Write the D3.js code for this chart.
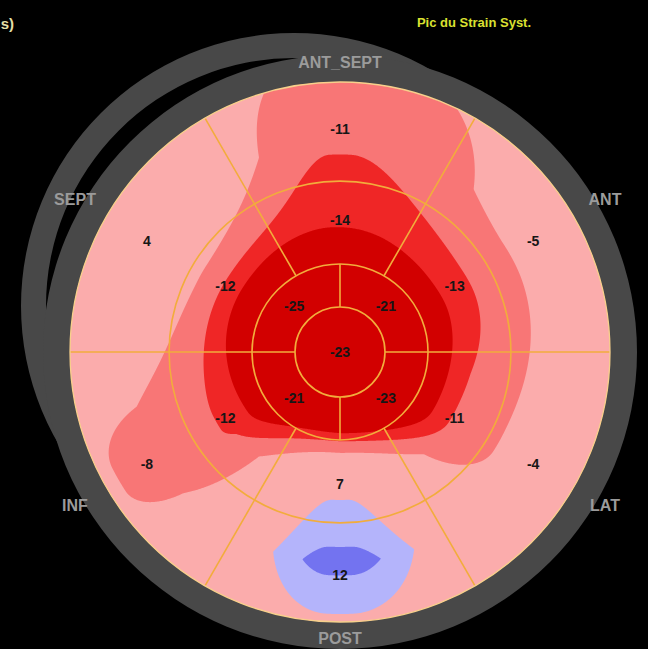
<!DOCTYPE html>
<html lang="en">
<head>
<meta charset="UTF-8">
<title>Pic du Strain Syst.</title>
<script src="https://cdn.jsdelivr.net/npm/d3@7"></script>
<style>
  body { margin: 0; background: #000; }
  svg { display: block; font-family: "Liberation Sans", Arial, sans-serif; }
</style>
</head>
<body>
<script>
// walls, clockwise from the top of the map
const walls = ["ANT_SEPT", "ANT", "LAT", "POST", "INF", "SEPT"];
const basal = [-11, -5, -4, 12, -8, 4];
const mid = [-14, -13, -11, 7, -12, -12];
// apical quadrants, clockwise from top right
const apical = [-21, -23, -21, -25];
const apex = -23;
// colour bands of the strain scale
const levels = [-15, -11.5, -6.5, 8, 11];
const levelColors = ["#d20000", "#ef2626", "#f87676", "#fbacac", "#b4b4fb", "#7373f0"];

const width = 648, height = 649;
const cx = 340, cy = 352, R = 270;
const r = d3.scaleLinear().domain([0, 1]).range([0, R]);
const ringEdges = [1 / 6, 0.326, 0.633, 1];
const labelR = [0.24, 0.49, 0.826];
const rad = a => a * Math.PI / 180;
const px = (d, a) => d * Math.sin(rad(a));
const py = (d, a) => -d * Math.cos(rad(a));

// eased step between two segment centres
function ease(f, p) {
    const g = Math.min(1, Math.max(0, (f - p) / (1 - 2 * p)));
    return g * g * (3 - 2 * g);
}

// value of a ring at angle a (degrees, clockwise from top)
function around(vals, offset, a) {
    const step = 360 / vals.length;
    const t = ((((a - offset) % 360) + 360) % 360) / step;
    const k = Math.floor(t);
    const s = ease(t - k, 0.05);
    return vals[k % vals.length] * (1 - s) + vals[(k + 1) % vals.length] * s;
}

// radial nodes: apex, apical, mid, basal
const nodeR = [0, 0.24, 0.49, 0.78].map(r);
const basalMean = d3.mean(basal);
function strainAt(x, y) {
    const d = Math.hypot(x, y);
    const a = Math.atan2(x, -y) * 180 / Math.PI;
    const v = [apex, around(apical, 45, a), around(mid, 0, a), around(basal, 0, a)];
    if (d >= nodeR[3]) return v[3] + 0.33 * (basalMean - v[3]) * (d - nodeR[3]) / (R - nodeR[3]);
    let i = 0;
    while (d > nodeR[i + 1]) i++;
    const f = (d - nodeR[i]) / (nodeR[i + 1] - nodeR[i]);
    return v[i] + (v[i + 1] - v[i]) * f;
}

const svg = d3.select("body").append("svg")
    .attr("width", width)
    .attr("height", height);

svg.append("rect").attr("width", width).attr("height", height).attr("fill", "#000");

svg.append("defs").append("clipPath").attr("id", "disk")
    .append("circle").attr("cx", R).attr("cy", R).attr("r", R);

// grey frame, with the shifted ghost ring behind it
const ring = d3.arc().startAngle(0).endAngle(2 * Math.PI);
svg.append("path")
    .attr("transform", "translate(294,306)")
    .attr("d", ring.innerRadius(248).outerRadius(273)())
    .attr("fill", "#484848");
svg.append("path")
    .attr("transform", `translate(${cx},${cy})`)
    .attr("d", ring.innerRadius(R - 2).outerRadius(297)())
    .attr("fill", "#484848");

// colour map
const n = 2 * R;
const grid = new Float64Array(n * n);
for (let j = 0; j < n; j++) {
    for (let i = 0; i < n; i++) {
        grid[j * n + i] = strainAt(i + 0.5 - R, j + 0.5 - R);
    }
}
const bands = d3.contours().size([n, n]).thresholds(levels)(grid);
const color = d3.scaleThreshold().domain(levels).range(levelColors);

const map = svg.append("g")
    .attr("transform", `translate(${cx - R},${cy - R})`)
    .attr("clip-path", "url(#disk)");
map.append("circle").attr("cx", R).attr("cy", R).attr("r", R).attr("fill", levelColors[0]);
map.selectAll("path")
    .data(bands)
    .join("path")
    .attr("d", d3.geoPath())
    .attr("fill", d => color(d.value));

// segment grid
const g = svg.append("g").attr("transform", `translate(${cx},${cy})`);
const lines = g.append("g")
    .attr("fill", "none")
    .attr("stroke", "#f2ac3c")
    .attr("stroke-width", 1.6);
ringEdges.slice(0, 3).forEach(e => lines.append("circle").attr("r", r(e)));
[0, 90, 180, 270].forEach(a => {
    lines.append("line")
        .attr("x1", px(r(ringEdges[0]), a)).attr("y1", py(r(ringEdges[0]), a))
        .attr("x2", px(r(ringEdges[1]), a)).attr("y2", py(r(ringEdges[1]), a));
});
walls.forEach((w, k) => {
    const a = 30 + 60 * k;
    lines.append("line")
        .attr("x1", px(r(ringEdges[1]), a)).attr("y1", py(r(ringEdges[1]), a))
        .attr("x2", px(R, a)).attr("y2", py(R, a));
});
g.append("circle").attr("r", R).attr("fill", "none")
    .attr("stroke", "#f7d08c").attr("stroke-width", 1.3);

// segment values
const valueLabels = [];
apical.forEach((v, k) => valueLabels.push({ v, d: r(labelR[0]), a: 45 + 90 * k }));
mid.forEach((v, k) => valueLabels.push({ v, d: r(labelR[1]), a: 60 * k }));
basal.forEach((v, k) => valueLabels.push({ v, d: r(labelR[2]), a: 60 * k }));
valueLabels.push({ v: apex, d: 0, a: 0 });

g.selectAll("text.val")
    .data(valueLabels)
    .join("text")
    .attr("class", "val")
    .attr("x", d => px(d.d, d.a))
    .attr("y", d => py(d.d, d.a))
    .attr("text-anchor", "middle")
    .attr("dominant-baseline", "central")
    .attr("font-size", 14)
    .attr("font-weight", "bold")
    .attr("fill", "#161616")
    .text(d => d.v);

// wall names
const wallR = k => (k % 3 === 0 ? (k === 0 ? 290 : 286) : 306);
g.selectAll("text.wall")
    .data(walls)
    .join("text")
    .attr("class", "wall")
    .attr("x", (w, k) => px(wallR(k), 60 * k))
    .attr("y", (w, k) => py(wallR(k), 60 * k))
    .attr("text-anchor", "middle")
    .attr("dominant-baseline", "central")
    .attr("font-size", 16)
    .attr("font-weight", "bold")
    .attr("fill", "#9b9b9b")
    .text(w => w);

svg.append("text")
    .attr("x", 474).attr("y", 22)
    .attr("text-anchor", "middle")
    .attr("dominant-baseline", "central")
    .attr("font-size", 13)
    .attr("font-weight", "bold")
    .attr("fill", "#dbe130")
    .text("Pic du Strain Syst.");

svg.append("text")
    .attr("x", 14).attr("y", 23)
    .attr("text-anchor", "end")
    .attr("dominant-baseline", "central")
    .attr("font-size", 15)
    .attr("font-weight", "bold")
    .attr("fill", "#e4dfa6")
    .text("s)");
</script>
</body>
</html>
